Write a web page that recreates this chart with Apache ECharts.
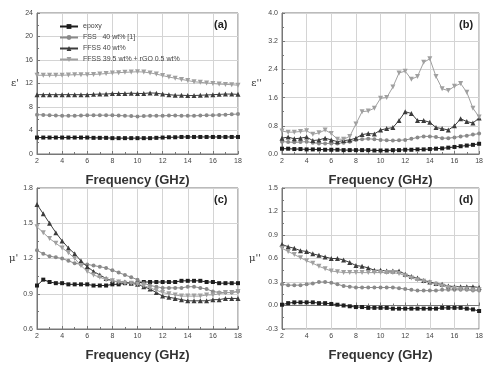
<!DOCTYPE html>
<html>
<head>
<meta charset="utf-8">
<script src="https://cdn.jsdelivr.net/npm/echarts@6/dist/echarts.min.js"></script>
<style>
  html, body { margin: 0; padding: 0; background: #fff; }
  #chart { width: 486px; height: 365px; }
</style>
</head>
<body>
<div id="chart"></div>
<script>
// frequency (GHz), shared by all four panels
const freq = [2, 2.5, 3, 3.5, 4, 4.5, 5, 5.5, 6, 6.5, 7, 7.5, 8, 8.5, 9, 9.5, 10,
  10.5, 11, 11.5, 12, 12.5, 13, 13.5, 14, 14.5, 15, 15.5, 16, 16.5, 17, 17.5, 18];

const seriesNames = ['epoxy', 'FSS   40 wt% [1]', 'FFSS 40 wt%', 'FFSS 39.5 wt% + rGO 0.5 wt%'];

// (a) epsilon'
const epsRealEpoxy = [2.8,2.8,2.8,2.8,2.8,2.8,2.8,2.8,2.8,2.75,2.75,2.75,2.7,2.7,2.7,2.7,2.7,2.7,2.7,2.75,2.8,2.85,2.85,2.9,2.9,2.9,2.9,2.9,2.9,2.9,2.9,2.9,2.9];
const epsRealFSS = [6.7,6.65,6.6,6.55,6.5,6.5,6.5,6.55,6.6,6.6,6.6,6.6,6.6,6.55,6.5,6.45,6.4,6.45,6.5,6.5,6.5,6.55,6.55,6.5,6.5,6.5,6.55,6.6,6.6,6.65,6.7,6.75,6.8];
const epsRealFFSS = [10.1,10.1,10.1,10.1,10.1,10.1,10.1,10.1,10.1,10.15,10.2,10.2,10.3,10.3,10.3,10.35,10.3,10.3,10.4,10.35,10.2,10.1,10.0,10.0,9.95,9.95,10.0,10.05,10.1,10.15,10.2,10.2,10.15];
const epsRealRGO = [13.4,13.4,13.4,13.4,13.4,13.45,13.5,13.5,13.5,13.55,13.6,13.7,13.8,13.85,13.9,13.95,14.0,13.95,13.8,13.6,13.35,13.1,12.9,12.7,12.5,12.3,12.2,12.1,12.0,11.9,11.85,11.8,11.7];

// (b) epsilon''
const epsImagEpoxy = [0.15,0.15,0.14,0.14,0.13,0.13,0.13,0.12,0.12,0.12,0.11,0.11,0.11,0.11,0.11,0.1,0.1,0.1,0.11,0.11,0.12,0.12,0.13,0.13,0.14,0.15,0.16,0.18,0.2,0.22,0.24,0.26,0.29];
const epsImagFSS = [0.35,0.34,0.33,0.34,0.35,0.32,0.3,0.3,0.3,0.3,0.32,0.35,0.4,0.42,0.43,0.42,0.4,0.39,0.38,0.39,0.4,0.43,0.47,0.5,0.5,0.48,0.45,0.45,0.47,0.5,0.52,0.55,0.58];
const epsImagFFSS = [0.45,0.48,0.43,0.45,0.48,0.38,0.4,0.45,0.4,0.35,0.38,0.4,0.45,0.55,0.58,0.57,0.68,0.72,0.75,0.95,1.2,1.15,0.95,0.95,0.9,0.75,0.72,0.68,0.8,1.0,0.92,0.88,1.02];
const epsImagRGO = [0.65,0.62,0.62,0.64,0.66,0.56,0.6,0.68,0.58,0.42,0.42,0.5,0.85,1.2,1.22,1.3,1.58,1.6,1.9,2.3,2.35,2.12,2.2,2.6,2.7,2.2,1.85,1.8,1.92,2.0,1.75,1.3,1.05];

// (c) mu'
const muRealEpoxy = [0.97,1.02,1.0,0.99,0.99,0.98,0.98,0.98,0.98,0.97,0.97,0.97,0.98,0.98,0.99,0.99,0.99,1.0,1.0,1.0,1.0,1.0,1.0,1.01,1.01,1.01,1.01,1.0,1.0,0.99,0.99,0.99,0.99];
const muRealFSS = [1.27,1.24,1.22,1.21,1.2,1.18,1.16,1.15,1.15,1.14,1.13,1.12,1.1,1.08,1.06,1.04,1.02,0.99,0.97,0.96,0.95,0.95,0.95,0.95,0.96,0.96,0.95,0.94,0.92,0.91,0.91,0.91,0.92];
const muRealFFSS = [1.66,1.58,1.5,1.42,1.35,1.29,1.24,1.18,1.13,1.09,1.06,1.03,1.01,1.0,1.0,0.99,0.98,0.96,0.94,0.91,0.88,0.87,0.86,0.85,0.84,0.84,0.84,0.84,0.85,0.85,0.86,0.86,0.86];
const muRealRGO = [1.47,1.42,1.37,1.33,1.29,1.25,1.2,1.14,1.09,1.06,1.04,1.02,1.01,1.0,0.99,0.99,0.98,0.97,0.95,0.93,0.91,0.9,0.89,0.88,0.88,0.88,0.88,0.89,0.89,0.9,0.91,0.91,0.92];

// (d) mu''
const muImagEpoxy = [0.01,0.03,0.04,0.04,0.04,0.04,0.03,0.03,0.02,0.01,0.0,-0.01,-0.02,-0.02,-0.03,-0.03,-0.03,-0.03,-0.04,-0.04,-0.04,-0.04,-0.04,-0.04,-0.04,-0.04,-0.03,-0.03,-0.03,-0.03,-0.04,-0.05,-0.07];
const muImagFSS = [0.27,0.26,0.26,0.26,0.27,0.28,0.3,0.3,0.29,0.27,0.25,0.24,0.23,0.23,0.23,0.23,0.23,0.23,0.23,0.22,0.21,0.2,0.19,0.19,0.19,0.19,0.2,0.2,0.2,0.2,0.2,0.19,0.19];
const muImagFFSS = [0.78,0.75,0.73,0.7,0.69,0.66,0.64,0.62,0.6,0.6,0.58,0.55,0.51,0.5,0.48,0.45,0.45,0.44,0.44,0.44,0.4,0.37,0.35,0.32,0.3,0.28,0.27,0.25,0.24,0.24,0.24,0.24,0.23];
const muImagRGO = [0.73,0.69,0.65,0.61,0.57,0.54,0.5,0.47,0.44,0.43,0.42,0.42,0.42,0.42,0.42,0.42,0.42,0.42,0.42,0.41,0.38,0.35,0.33,0.31,0.29,0.27,0.25,0.23,0.22,0.21,0.21,0.2,0.2];

const panels = [
  { label: '(a)', yName: 'ε\'', min: 0, max: 24, step: 4, digits: 0,
    data: [epsRealEpoxy, epsRealFSS, epsRealFFSS, epsRealRGO] },
  { label: '(b)', yName: 'ε\'\'', min: 0, max: 4, step: 0.8, digits: 1,
    data: [epsImagEpoxy, epsImagFSS, epsImagFFSS, epsImagRGO] },
  { label: '(c)', yName: 'μ\'', min: 0.6, max: 1.8, step: 0.3, digits: 1,
    data: [muRealEpoxy, muRealFSS, muRealFFSS, muRealRGO] },
  { label: '(d)', yName: 'μ\'\'', min: -0.3, max: 1.5, step: 0.3, digits: 1,
    data: [muImagEpoxy, muImagFSS, muImagFFSS, muImagRGO] },
];

const boxes = [
  { left: 37, top: 13 }, { left: 282, top: 13 },
  { left: 37, top: 188 }, { left: 282, top: 188 },
];

const styles = [
  { color: '#1e1e1e', symbol: 'rect', rotate: 0, size: 4 },
  { color: '#8a8a8a', symbol: 'circle', rotate: 0, size: 4 },
  { color: '#3c3c3c', symbol: 'triangle', rotate: 0, size: 5 },
  { color: '#a0a0a0', symbol: 'triangle', rotate: 180, size: 5 },
];

const FONT = 'Liberation Sans, Arial, sans-serif';
const chart = echarts.init(document.getElementById('chart'));

const grid = boxes.map(b => ({
  left: b.left, top: b.top, width: 201, height: 141,
  show: true, borderColor: '#777', borderWidth: 1, backgroundColor: 'transparent',
}));

const xAxis = panels.map((p, i) => ({
  type: 'value', gridIndex: i, min: 2, max: 18, interval: 2,
  name: 'Frequency (GHz)', nameLocation: 'middle', nameGap: 20,
  nameTextStyle: { fontFamily: FONT, fontSize: 13, fontWeight: 'bold', color: '#333' },
  axisLine: { show: true, lineStyle: { color: '#777' } },
  axisTick: { show: true, inside: true, length: 3, lineStyle: { color: '#777' } },
  minorTick: { show: true, splitNumber: 2, length: 2, lineStyle: { color: '#777' } },
  axisLabel: { fontFamily: FONT, fontSize: 7, color: '#444', margin: 4 },
  splitLine: { show: true, lineStyle: { color: '#d4d4d4', width: 1 } },
}));

const yAxis = panels.map((p, i) => ({
  type: 'value', gridIndex: i, min: p.min, max: p.max, interval: p.step,
  name: p.yName, nameLocation: 'middle', nameRotate: 0, nameGap: i % 2 === 0 ? 18 : 20,
  nameTextStyle: { fontFamily: 'DejaVu Serif, serif', fontSize: 10, color: '#333' },
  axisLine: { show: true, lineStyle: { color: '#777' } },
  axisTick: { show: true, inside: true, length: 3, lineStyle: { color: '#777' } },
  minorTick: { show: true, splitNumber: 2, length: 2, lineStyle: { color: '#777' } },
  axisLabel: {
    fontFamily: FONT, fontSize: 7, color: '#444', margin: 4,
    formatter: v => v.toFixed(p.digits),
  },
  splitLine: { show: true, lineStyle: { color: '#d4d4d4', width: 1 } },
}));

const series = [];
panels.forEach((p, i) => {
  p.data.forEach((vals, k) => {
    const s = styles[k];
    series.push({
      name: seriesNames[k], type: 'line',
      xAxisIndex: i, yAxisIndex: i,
      data: freq.map((f, j) => [f, vals[j]]),
      symbol: s.symbol, symbolSize: s.size, symbolRotate: s.rotate,
      showAllSymbol: true,
      lineStyle: { color: s.color, width: 1 },
      itemStyle: { color: s.color },
      z: 2 + k,
      silent: true,
    });
  });
});

const graphic = panels.map((p, i) => ({
  type: 'text',
  left: boxes[i].left + 201 - 24, top: boxes[i].top + 6,
  z: 100,
  style: { text: p.label, font: 'bold 11px ' + FONT, fill: '#222',
    backgroundColor: '#fff' },
}));

chart.setOption({
  animation: false,
  backgroundColor: '#fff',
  grid, xAxis, yAxis, series, graphic,
  legend: {
    left: 54, top: 18, orient: 'vertical', itemGap: 4,
    itemWidth: 18, itemHeight: 6,
    data: seriesNames,
    textStyle: { fontFamily: FONT, fontSize: 7, color: '#444' },
  },
});
</script>
</body>
</html>
